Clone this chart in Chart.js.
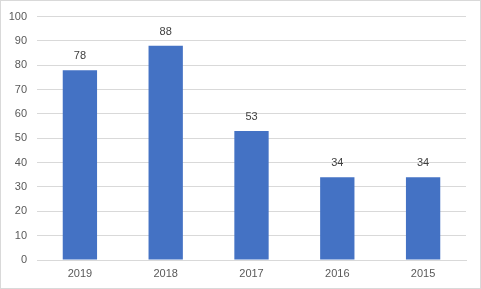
<!DOCTYPE html>
<html>
<head>
<meta charset="utf-8">
<script src="https://cdn.jsdelivr.net/npm/chart.js@4/dist/chart.umd.min.js"></script>
<style>
html,body{margin:0;padding:0;background:#fff;}
canvas{display:block;}
</style>
</head>
<body>
<canvas id="c" width="481" height="289"></canvas>
<script>
const categories = ["2019", "2018", "2017", "2016", "2015"];
const values = [78, 88, 53, 34, 34];
const yTicks = { min: 0, max: 100, step: 10 };

const FONT = "'Liberation Sans', Arial, sans-serif";

const borderPlugin = {
  id: 'outerBorder',
  beforeDraw(chart) {
    const ctx = chart.ctx;
    ctx.save();
    ctx.fillStyle = '#ffffff';
    ctx.fillRect(0, 0, chart.width, chart.height);
    ctx.strokeStyle = '#d9d9d9';
    ctx.lineWidth = 1;
    ctx.strokeRect(0.5, 0.5, chart.width - 1, chart.height - 1);
    ctx.restore();
  }
};

const labelPlugin = {
  id: 'barLabels',
  afterDatasetsDraw(chart) {
    const ctx = chart.ctx;
    ctx.save();
    ctx.font = "11px " + FONT;
    ctx.fillStyle = '#404040';
    ctx.textAlign = 'center';
    ctx.textBaseline = 'middle';
    chart.getDatasetMeta(0).data.forEach((bar, i) => {
      ctx.fillText(String(values[i]), bar.x, bar.y - 14);
    });
    ctx.restore();
  }
};

new Chart(document.getElementById('c'), {
  type: 'bar',
  data: {
    labels: categories,
    datasets: [{
      data: values,
      backgroundColor: '#4472C4',
      borderWidth: 0,
      categoryPercentage: 1,
      barPercentage: 0.4
    }]
  },
  options: {
    responsive: false,
    animation: false,
    devicePixelRatio: 1,
    layout: { padding: { left: 0, top: 15, right: 15, bottom: 0 } },
    plugins: { legend: { display: false }, tooltip: { enabled: false } },
    scales: {
      x: {
        grid: { display: false, drawTicks: false },
        border: { display: true, color: '#d9d9d9', width: 1 },
        ticks: { color: '#595959', font: { size: 11, family: FONT }, padding: 7 },
        afterFit(s) { s.height = 29; }
      },
      y: {
        min: yTicks.min,
        max: yTicks.max,
        grid: { color: '#d9d9d9', drawTicks: false },
        border: { display: false },
        ticks: { stepSize: yTicks.step, color: '#595959', font: { size: 11, family: FONT }, padding: 10 },
        afterFit(s) { s.width = 37; }
      }
    }
  },
  plugins: [borderPlugin, labelPlugin]
});
</script>
</body>
</html>
